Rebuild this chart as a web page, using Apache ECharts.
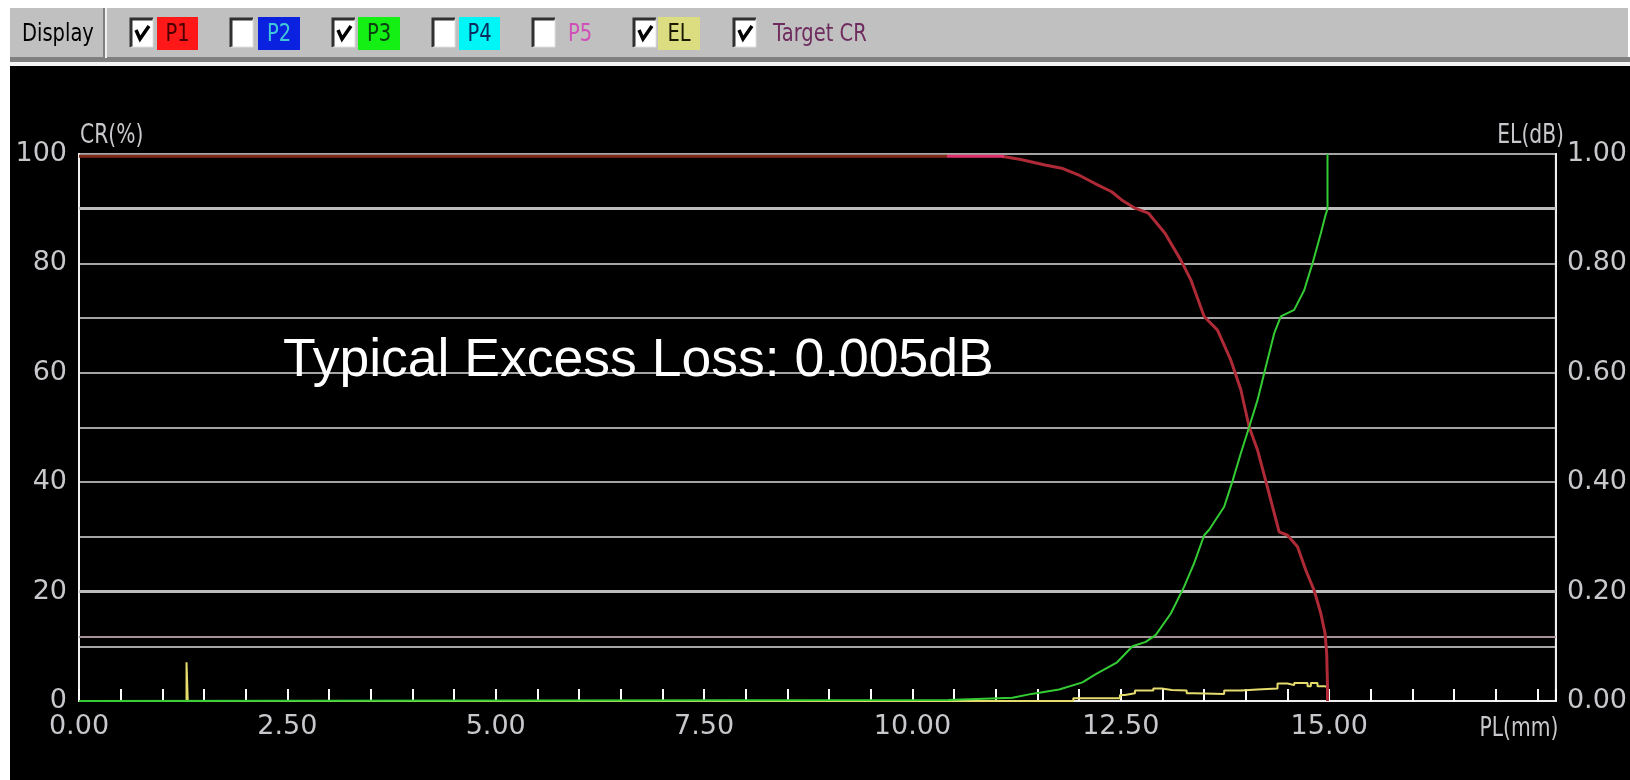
<!DOCTYPE html>
<html>
<head>
<meta charset="utf-8">
<script src="https://cdn.jsdelivr.net/npm/echarts@6/dist/echarts.min.js"></script>
<style>
html,body{margin:0;padding:0;background:#fff;}
#c{width:1630px;height:780px;}
</style>
</head>
<body>
<div id="c"></div>
<script>
// ---------- data ----------
const PL_MIN = 0, PL_MAX = 17.72;
const xTickLabels = ['0.00','2.50','5.00','7.50','10.00','12.50','15.00'];
const crTickLabels = ['0','20','40','60','80','100'];
const elTickLabels = ['0.00','0.20','0.40','0.60','0.80','1.00'];

// P1 coupling ratio (%), vs pull length (mm)
const p1 = [[0,99.6],[10.42,99.6],[11.07,99.6],[11.3,99.0],[11.59,98.0],[11.79,97.4],[11.99,96.2],[12.19,94.6],[12.39,93.1],[12.51,91.6],[12.67,90.1],[12.83,89.2],[13.03,85.5],[13.22,80.6],[13.34,77.0],[13.5,70.3],[13.66,67.8],[13.82,62.3],[13.94,56.9],[14.04,50.1],[14.14,45.9],[14.24,40.2],[14.3,36.7],[14.4,30.9],[14.5,30.3],[14.62,28.2],[14.72,23.9],[14.82,20.2],[14.9,16.0],[14.95,12.4],[14.97,8.7],[14.98,2.6],[14.98,0]];
// P3 coupling ratio (%)
const p3 = [[0,0],[10.43,0.2],[11.2,0.6],[11.43,1.3],[11.76,2.1],[12.04,3.4],[12.2,4.9],[12.45,7.0],[12.64,10.0],[12.8,10.8],[12.92,12.1],[13.1,16.0],[13.26,20.9],[13.38,25.2],[13.5,30.3],[13.56,31.3],[13.74,35.5],[13.84,40.2],[13.94,45.3],[14.04,50.1],[14.14,55.0],[14.22,59.9],[14.34,67.2],[14.42,70.3],[14.58,71.5],[14.7,75.1],[14.8,80.0],[14.9,85.5],[14.95,88.5],[14.98,90.0],[14.98,100]];
// Excess loss (dB), step line
const el = [[0,0],[1.29,0],[1.29,0.071],[1.305,0],[11.93,0.005],[12.49,0.011],[12.55,0.014],[12.67,0.019],[12.89,0.023],[12.99,0.020],[13.11,0.019],[13.29,0.014],[13.38,0.013],[13.74,0.019],[13.94,0.021],[14.14,0.023],[14.38,0.032],[14.5,0.029],[14.58,0.033],[14.74,0.027],[14.78,0.033],[14.86,0.027],[14.94,0.026],[14.98,0]];
const targetCR = 11.7;
const guideCR = [90, 20];

const annotation = 'Typical Excess Loss: 0.005dB';
const toolbarItems = [
  {name:'P1', checked:true},
  {name:'P2', checked:false},
  {name:'P3', checked:true},
  {name:'P4', checked:false},
  {name:'P5', checked:false},
  {name:'EL', checked:true},
  {name:'Target CR', checked:true}
];

// ---------- styling ----------
const FAM = "'DejaVu Sans',sans-serif";
const LBL = '#c8c8cc';
const itemStyle = {
  'P1': {bg:'#ff1818', fg:'#4a0000', box:130, lx:157, lw:41},
  'P2': {bg:'#0a22e0', fg:'#40c8d8', box:230, lx:258, lw:42},
  'P3': {bg:'#14f014', fg:'#0c4010', box:332, lx:358, lw:42},
  'P4': {bg:'#00f6f6', fg:'#0c2c60', box:432, lx:459, lw:41},
  'P5': {bg:null, fg:'#d050b8', box:532, lx:568, lw:32},
  'EL': {bg:'#dcdc80', fg:'#1a1a00', box:633, lx:658, lw:42},
  'Target CR': {bg:null, fg:'#6e2c5e', box:733, lx:773, lw:100}
};

const graphics = [];
graphics.push({type:'rect', shape:{x:10,y:8,width:1618,height:50}, style:{fill:'#c0c0c0'}, z:-10});
graphics.push({type:'rect', shape:{x:10,y:57,width:1620,height:5}, style:{fill:'#808080'}, z:-10});
graphics.push({type:'rect', shape:{x:10,y:62,width:1620,height:4}, style:{fill:'#f4f4f4'}, z:-10});
graphics.push({type:'rect', shape:{x:10,y:66,width:1620,height:714}, style:{fill:'#000000'}, z:-10});
graphics.push({type:'rect', shape:{x:103,y:8,width:2,height:50}, style:{fill:'#808080'}, z:-9});
graphics.push({type:'rect', shape:{x:105,y:8,width:2,height:50}, style:{fill:'#f0f0f0'}, z:-9});
graphics.push({type:'text', x:22, y:34, scaleX:0.78, style:{text:'Display', font:"25px " + FAM, fill:'#000', verticalAlign:'middle'}, z:-8});

toolbarItems.forEach(it => {
  const s = itemStyle[it.name];
  const bx = s.box, by = 18, bw = 23, bh = 29;
  graphics.push({type:'rect', shape:{x:bx,y:by,width:bw,height:bh}, style:{fill:'#ffffff'}, z:-8});
  graphics.push({type:'polyline', shape:{points:[[bx+1,by+bh],[bx+1,by+1],[bx+bw,by+1]]}, style:{stroke:'#303030', lineWidth:3, fill:null}, z:-7});
  graphics.push({type:'polyline', shape:{points:[[bx+bw,by+1],[bx+bw,by+bh],[bx+1,by+bh]]}, style:{stroke:'#e0e0e0', lineWidth:1, fill:null}, z:-7});
  if (it.checked) {
    graphics.push({type:'polyline', shape:{points:[[bx+6,by+12],[bx+10,by+21],[bx+19,by+8]]}, style:{stroke:'#000', lineWidth:3.5, fill:null}, z:-6});
  }
  if (s.bg) {
    graphics.push({type:'rect', shape:{x:s.lx,y:17,width:s.lw,height:33}, style:{fill:s.bg}, z:-8});
  }
  graphics.push({type:'text', x: s.bg ? s.lx + s.lw/2 : s.lx, y:34, scaleX:0.78,
    style:{text:it.name, font:"25px " + FAM, fill:s.fg, align: s.bg ? 'center' : 'left', verticalAlign:'middle'}, z:-6});
});

graphics.push({type:'text', x:283, y:361, style:{text:annotation, font:"53.5px 'Liberation Sans',Arial,sans-serif", fill:'#ffffff', verticalAlign:'middle'}, z:50});
graphics.push({type:'text', x:80, y:136, scaleX:0.78, style:{text:'CR(%)', font:"26px " + FAM, fill:LBL, verticalAlign:'middle'}, z:50});
graphics.push({type:'text', x:1564, y:136, scaleX:0.78, style:{text:'EL(dB)', font:"26px " + FAM, fill:LBL, align:'right', verticalAlign:'middle'}, z:50});
graphics.push({type:'text', x:1519, y:729, scaleX:0.78, style:{text:'PL(mm)', font:"26px " + FAM, fill:LBL, align:'center', verticalAlign:'middle'}, z:50});

const chart = echarts.init(document.getElementById('c'), null, {renderer:'canvas'});
const near = (v, step) => Math.abs(v/step - Math.round(v/step)) < 1e-6;
const labelFont = {color:LBL, fontFamily:FAM, fontSize:27};

chart.setOption({
  backgroundColor:'#ffffff',
  animation:false,
  graphic: graphics,
  grid:{left:79, right:65, top:154, bottom:79, show:true, borderColor:'#e6e6e6', borderWidth:2, backgroundColor:'transparent'},
  xAxis:{
    type:'value', min:PL_MIN, max:PL_MAX, interval:0.5,
    axisLine:{show:true, lineStyle:{color:'#eeeeee', width:2}},
    axisTick:{show:true, inside:true, length:12, lineStyle:{color:'#ffffff', width:2}},
    splitLine:{show:false},
    axisLabel:Object.assign({margin:12,
      formatter: v => {
        if (!near(v, 2.5)) return '';
        const i = Math.round(v/2.5);
        return i < xTickLabels.length ? xTickLabels[i] : '';
      }}, labelFont)
  },
  yAxis:[
    {
      type:'value', min:0, max:100, interval:10, position:'left',
      axisLine:{show:true, lineStyle:{color:'#eeeeee', width:2}},
      axisTick:{show:false},
      splitLine:{show:true, lineStyle:{color:'#a4a4a4', width:2}},
      axisLabel:Object.assign({margin:12,
        formatter: v => near(v,20) ? crTickLabels[Math.round(v/20)] : ''}, labelFont)
    },
    {
      type:'value', min:0, max:1, interval:0.1, position:'right',
      axisLine:{show:true, lineStyle:{color:'#eeeeee', width:2}},
      axisTick:{show:false},
      splitLine:{show:false},
      axisLabel:Object.assign({margin:11,
        formatter: v => near(v,0.2) ? elTickLabels[Math.round(v/0.2)] : ''}, labelFont)
    }
  ],
  visualMap:[{
    type:'piecewise', show:false, seriesIndex:0, dimension:0,
    pieces:[
      {lt:10.42, color:'#7e2a18'},
      {gte:10.42, lt:11.1, color:'#e0306a'},
      {gte:11.1, color:'#ad2a36'}
    ]
  }],
  series:[
    {name:'P1', type:'line', data:p1, yAxisIndex:0, showSymbol:false, z:5,
      lineStyle:{width:3}},
    {name:'P3', type:'line', data:p3, yAxisIndex:0, showSymbol:false, z:6,
      lineStyle:{width:2, color:'#34cc34'}},
    {name:'EL', type:'line', data:el, yAxisIndex:1, step:'end', showSymbol:false, z:4,
      lineStyle:{width:2, color:'#e6dc6e'}},
    {name:'Target CR', type:'line', data:[[PL_MIN,targetCR],[PL_MAX,targetCR]], yAxisIndex:0, showSymbol:false, z:3,
      lineStyle:{width:2, color:'#a8909a'},
      markLine:{silent:true, symbol:'none', label:{show:false},
        lineStyle:{type:'solid', color:'#bdbdbd', width:3},
        data: guideCR.map(v => ({yAxis:v}))}
    }
  ]
});
</script>
</body>
</html>
